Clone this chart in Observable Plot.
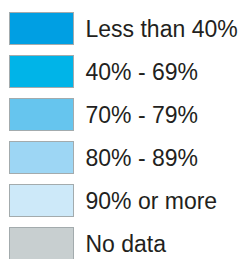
<!DOCTYPE html>
<html><head><meta charset="utf-8">
<script src="https://cdn.jsdelivr.net/npm/d3@7"></script>
<script src="https://cdn.jsdelivr.net/npm/@observablehq/plot@0.6"></script>
<style>body{margin:0;background:#fff}</style>
</head><body><div id="chart"></div>
<script>
const labels = ["Less than 40%", "40% - 69%", "70% - 79%", "80% - 89%", "90% or more", "No data"];
const colors = ["#009fe3", "#00b4e8", "#66c5ee", "#9dd6f4", "#cde9f9", "#c8cfd0"];
const data = labels.map((label, i) => ({label, color: colors[i], col: "swatch"}));
const chart = Plot.plot({
  width: 247, height: 259, margin: 0,
  style: {fontFamily: "Liberation Sans, Arial, sans-serif", background: "#fff"},
  x: {domain: ["swatch"], range: [9, 74], padding: 0, axis: null},
  y: {domain: labels, range: [10, 261], paddingInner: 0.243, paddingOuter: 0, axis: null},
  marks: [
    Plot.cell(data, {x: "col", y: "label", fill: "color", stroke: "#a3abad", strokeWidth: 1, inset: 0.5}),
    Plot.text(data, {x: "col", y: "label", text: "label", textAnchor: "start", dx: 43.5, dy: 1, fontSize: 23, fill: "#231f20"})
  ]
});
document.getElementById("chart").appendChild(chart);
</script></body></html>
